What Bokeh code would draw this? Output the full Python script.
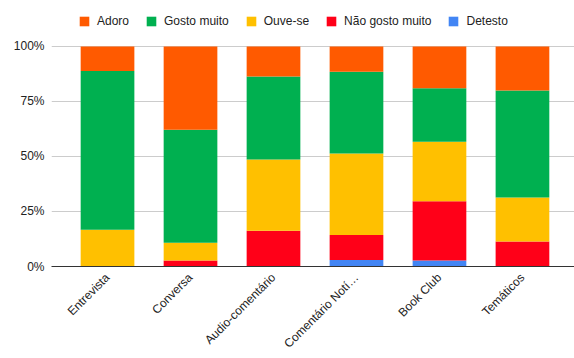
import math
from bokeh.plotting import figure
from bokeh.models import (Range1d, FixedTicker, PrintfTickFormatter, Legend, LegendItem,
                          ColumnDataSource)
from bokeh.embed import file_html
from bokeh.resources import INLINE

categories = ["Entrevista", "Conversa", "Audio-comentário", "Comentário Notí…", "Book Club", "Temáticos"]
detesto = [0.0, 0.0, 0.0, 2.9, 2.7, 0.0]
nao_gosto = [0.0, 2.7, 16.2, 11.4, 27.0, 11.4]
ouve_se = [16.7, 8.1, 32.4, 37.1, 27.0, 20.0]
gosto = [72.2, 51.4, 37.8, 37.1, 24.3, 48.6]
adoro = [11.1, 37.8, 13.6, 11.5, 19.0, 20.0]

series = ["Detesto", "Não gosto muito", "Ouve-se", "Gosto muito", "Adoro"]
colors = ["#4285F4", "#FF0018", "#FFC000", "#00B050", "#FF5A00"]
y_ticks = [0, 25, 50, 75, 100]

FONT = "Liberation Sans"

xs = list(range(len(categories)))
source = ColumnDataSource(data=dict(
    x=xs,
    Detesto=detesto,
    **{"Não gosto muito": nao_gosto},
    **{"Ouve-se": ouve_se},
    **{"Gosto muito": gosto},
    Adoro=adoro,
))

# frame spans the whole top area so the legend (inside it) is not clipped;
# the 100% gridline lands 46px below the top edge
p = figure(width=574, height=358, output_backend="svg", toolbar_location=None,
           x_range=Range1d(-0.675, 5.627), y_range=Range1d(0, 120.9),
           min_border_left=51, min_border_right=0, min_border_top=0, min_border_bottom=92)
p.outline_line_color = None
p.background_fill_color = "white"
p.border_fill_color = "white"

renderers = p.vbar_stack(series, x="x", width=0.647, color=colors, line_color=None, source=source)

# axes
p.xaxis.ticker = FixedTicker(ticks=xs)
p.xaxis.major_label_overrides = {i: c for i, c in enumerate(categories)}
p.xaxis.major_label_orientation = math.pi / 4
p.xaxis.major_tick_line_color = None
p.xaxis.major_tick_out = 0
p.xaxis.major_tick_in = 0
p.xaxis.minor_tick_line_color = None
p.xaxis.minor_tick_out = 0
p.xaxis.axis_line_color = "#333333"
p.xaxis.major_label_text_font = FONT
p.xaxis.major_label_text_font_size = "12px"
p.xaxis.major_label_text_color = "#222222"
p.xaxis.major_label_standoff = 9
p.xgrid.grid_line_color = None

p.yaxis.ticker = FixedTicker(ticks=y_ticks)
p.yaxis.formatter = PrintfTickFormatter(format="%d%%")
p.yaxis.axis_line_color = None
p.yaxis.major_tick_line_color = None
p.yaxis.major_tick_out = 0
p.yaxis.major_tick_in = 0
p.yaxis.minor_tick_line_color = None
p.yaxis.minor_tick_out = 0
p.yaxis.major_label_text_font = FONT
p.yaxis.major_label_text_font_size = "12px"
p.yaxis.major_label_text_color = "#222222"
p.yaxis.major_label_standoff = 7
p.ygrid.grid_line_color = "#CCCCCC"
p.ygrid.ticker = FixedTicker(ticks=y_ticks)

items = [LegendItem(label=s, renderers=[r]) for s, r in zip(series, renderers)][::-1]
legend = Legend(items=items, orientation="horizontal", location=(27, 238),
                border_line_color=None, background_fill_alpha=0, padding=0, margin=0,
                spacing=16, label_standoff=7, glyph_width=12, glyph_height=12,
                label_height=12, label_text_font=FONT, label_text_font_size="12px",
                label_text_color="#222222")
p.add_layout(legend)

open("out.html", "w").write(file_html(p, INLINE))
